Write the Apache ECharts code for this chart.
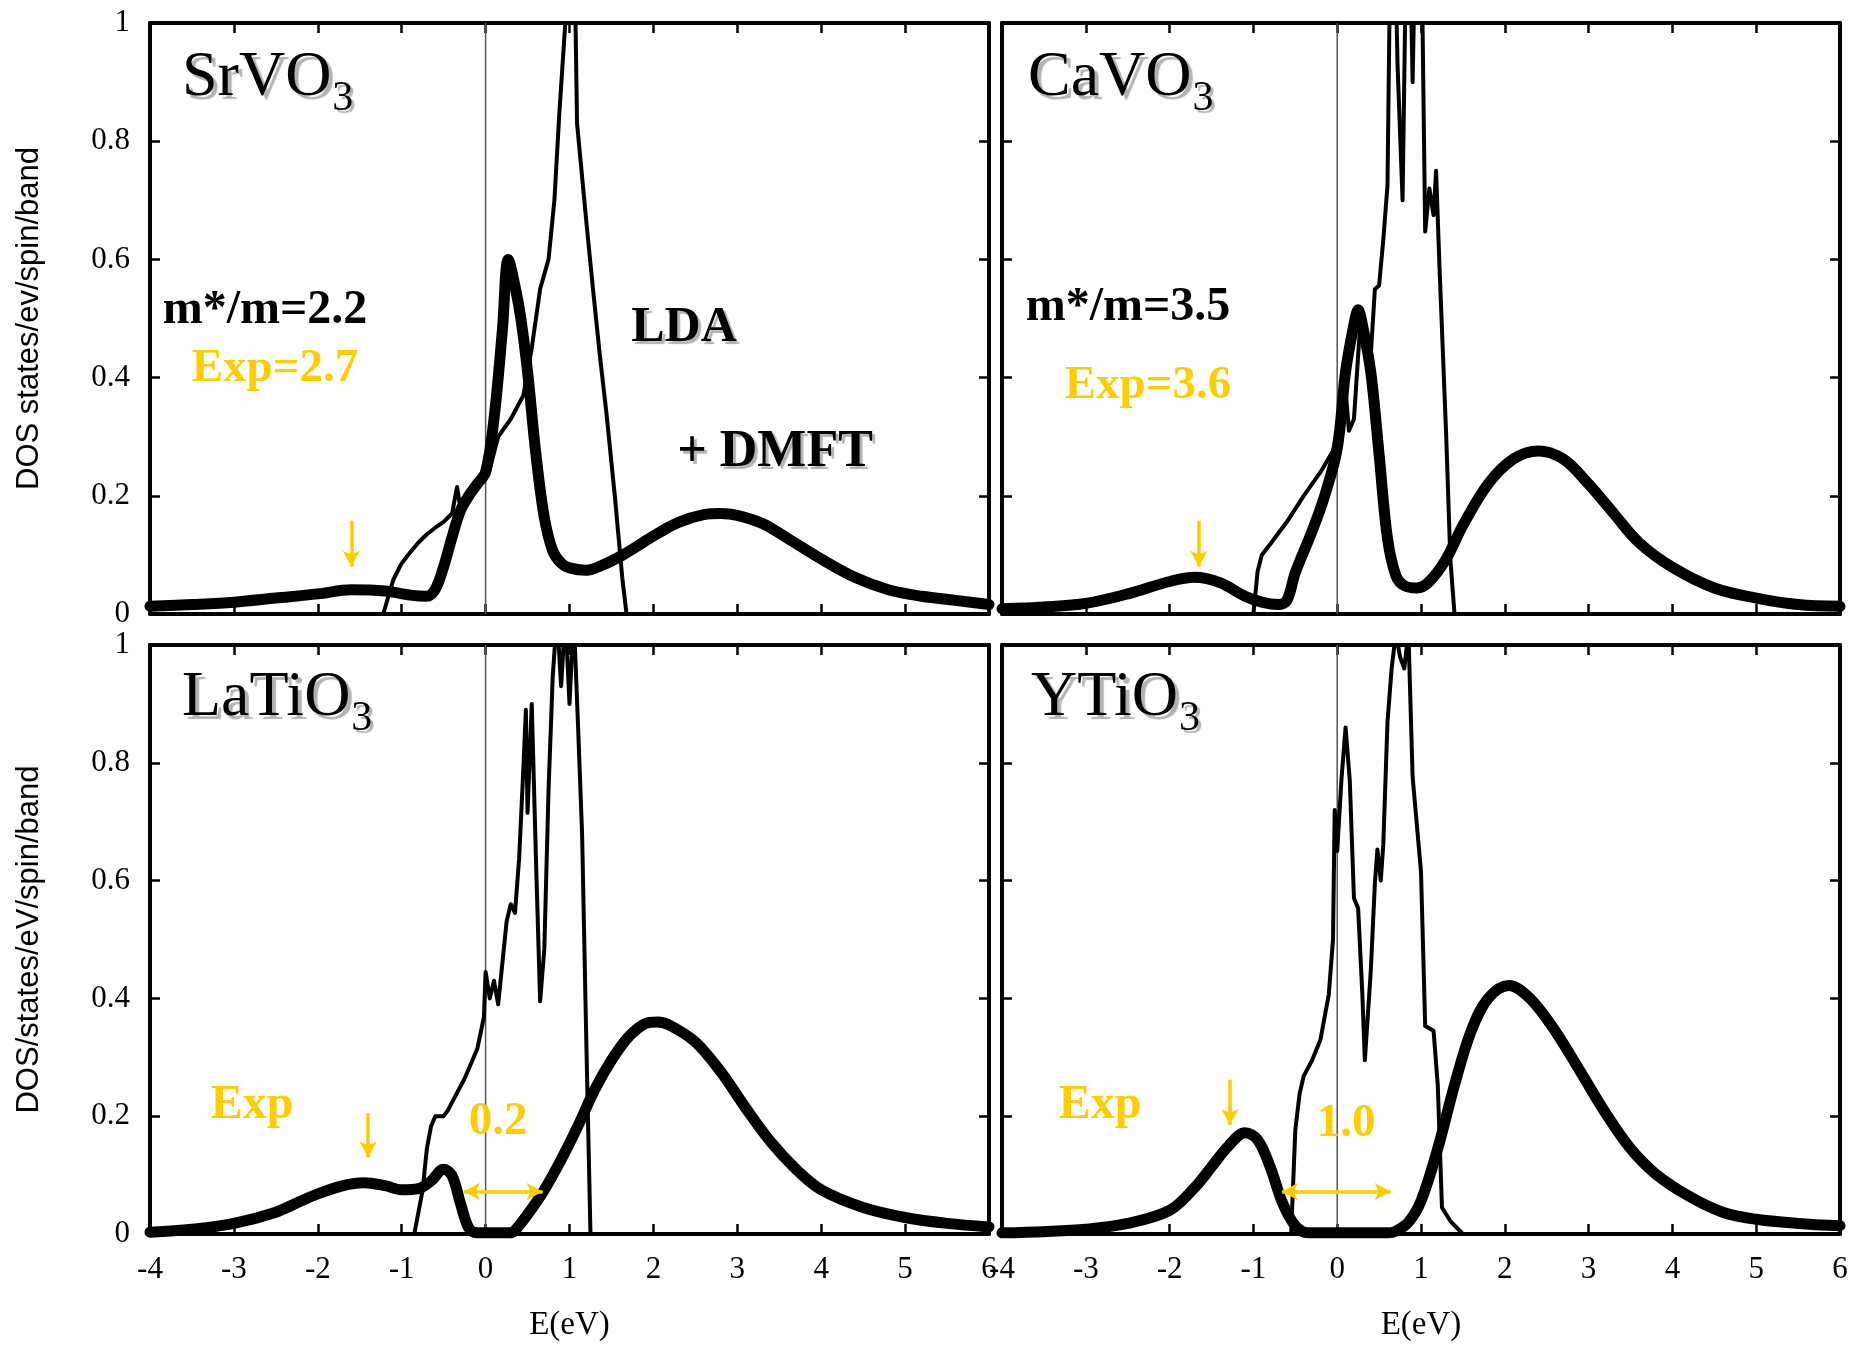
<!DOCTYPE html>
<html lang="en">
<head>
    <meta charset="UTF-8">
    <title>LDA+DMFT DOS</title>
    <script src="https://cdn.jsdelivr.net/npm/echarts@6/dist/echarts.min.js"></script>
    <style>
        body { margin: 0; background: #fff; }
        #chart { width: 1853px; height: 1346px; }
    </style>
</head>
<body>
<div id="chart"></div>
<script>
// [E (eV), DOS] pairs; thick = LDA+DMFT, thin = LDA
const srvo3Dmft = [[-4,0.013],[-3.5,0.016],[-3,0.02],[-2.5,0.027],[-2,0.034],[-1.6,0.041],[-1.2,0.039],[-0.9,0.032],[-0.7,0.03],[-0.6,0.042],[-0.5,0.08],[-0.4,0.13],[-0.3,0.175],[-0.2,0.2],[-0.1,0.22],[0,0.24],[0.1,0.33],[0.2,0.48],[0.27,0.6],[0.35,0.555],[0.42,0.5],[0.5,0.41],[0.6,0.27],[0.7,0.163],[0.8,0.107],[0.9,0.086],[1.0,0.078],[1.2,0.074],[1.4,0.083],[1.6,0.097],[1.8,0.114],[2.0,0.132],[2.3,0.155],[2.6,0.168],[2.8,0.17],[3.0,0.167],[3.3,0.153],[3.6,0.128],[4.0,0.093],[4.4,0.062],[4.8,0.041],[5.2,0.03],[5.6,0.023],[6,0.016]];
const srvo3Lda = [[-1.85,0],[-1.22,0],[-1.1,0.058],[-1.0,0.086],[-0.9,0.104],[-0.8,0.121],[-0.7,0.135],[-0.6,0.146],[-0.5,0.156],[-0.4,0.17],[-0.34,0.215],[-0.31,0.188],[-0.2,0.2],[-0.05,0.226],[0,0.265],[0.04,0.24],[0.15,0.3],[0.3,0.33],[0.45,0.37],[0.55,0.45],[0.65,0.55],[0.75,0.6],[0.82,0.7],[0.88,0.85],[0.95,1.0],[1.0,1.3],[1.04,1.3],[1.09,0.83],[1.21,0.65],[1.28,0.55],[1.36,0.44],[1.44,0.34],[1.54,0.2],[1.63,0.06],[1.68,0],[2.15,0]];

const cavo3Dmft = [[-4,0.009],[-3.5,0.012],[-3,0.018],[-2.5,0.034],[-2,0.055],[-1.7,0.062],[-1.4,0.053],[-1.1,0.03],[-0.9,0.02],[-0.7,0.016],[-0.6,0.023],[-0.5,0.07],[-0.3,0.14],[-0.15,0.2],[0,0.28],[0.1,0.41],[0.2,0.49],[0.25,0.515],[0.3,0.49],[0.4,0.41],[0.5,0.27],[0.6,0.128],[0.7,0.065],[0.8,0.048],[0.95,0.044],[1.1,0.055],[1.3,0.093],[1.5,0.15],[1.8,0.22],[2.1,0.262],[2.4,0.276],[2.7,0.262],[3.0,0.22],[3.3,0.17],[3.6,0.121],[4.0,0.079],[4.5,0.044],[5.0,0.027],[5.5,0.016],[6,0.013]];
const cavo3Lda = [[-1.0,0],[-0.95,0.072],[-0.9,0.1],[-0.8,0.118],[-0.6,0.156],[-0.4,0.2],[-0.2,0.24],[-0.05,0.276],[0.05,0.34],[0.1,0.38],[0.14,0.31],[0.2,0.33],[0.27,0.48],[0.33,0.45],[0.4,0.437],[0.45,0.55],[0.5,0.556],[0.55,0.633],[0.6,0.725],[0.64,1.2],[0.68,1.2],[0.72,0.93],[0.78,0.7],[0.83,1.2],[0.86,1.2],[0.9,0.9],[0.94,1.2],[1.0,1.2],[1.05,0.647],[1.1,0.72],[1.15,0.675],[1.18,0.75],[1.22,0.59],[1.3,0.304],[1.35,0.093],[1.4,0],[1.45,0]];

const latio3Dmft = [[-4,0.003],[-3.5,0.008],[-3,0.018],[-2.5,0.037],[-2.2,0.056],[-2,0.068],[-1.7,0.082],[-1.45,0.087],[-1.2,0.082],[-1,0.075],[-0.8,0.077],[-0.65,0.09],[-0.5,0.11],[-0.4,0.099],[-0.3,0.052],[-0.2,0.01],[-0.1,0.002],[0.3,0.002],[0.35,0.006],[0.5,0.033],[0.7,0.075],[0.9,0.126],[1.1,0.183],[1.3,0.245],[1.5,0.295],[1.7,0.334],[1.9,0.357],[2.05,0.36],[2.2,0.354],[2.5,0.326],[2.8,0.276],[3.1,0.214],[3.4,0.156],[3.7,0.11],[4,0.075],[4.5,0.045],[5,0.028],[5.5,0.018],[6,0.012]];
const latio3Lda = [[-0.85,0],[-0.75,0.075],[-0.7,0.145],[-0.65,0.183],[-0.6,0.2],[-0.5,0.2],[-0.45,0.21],[-0.35,0.237],[-0.25,0.264],[-0.1,0.314],[-0.02,0.368],[0,0.445],[0.05,0.4],[0.1,0.43],[0.15,0.39],[0.2,0.46],[0.25,0.53],[0.3,0.56],[0.35,0.545],[0.4,0.638],[0.45,0.79],[0.48,0.89],[0.5,0.715],[0.55,0.9],[0.6,0.638],[0.65,0.395],[0.7,0.484],[0.75,0.753],[0.8,0.946],[0.85,1.05],[0.9,0.93],[0.95,1.05],[1.0,0.9],[1.05,1.05],[1.1,0.87],[1.15,0.68],[1.2,0.33],[1.25,0]];

const ytio3Dmft = [[-4,0.002],[-3.5,0.004],[-3,0.008],[-2.5,0.018],[-2,0.04],[-1.7,0.079],[-1.5,0.114],[-1.3,0.149],[-1.1,0.172],[-0.95,0.16],[-0.8,0.114],[-0.65,0.052],[-0.5,0.014],[-0.35,0.002],[0.6,0.002],[0.7,0.005],[0.85,0.02],[1.0,0.056],[1.2,0.145],[1.4,0.253],[1.6,0.345],[1.8,0.4],[2.05,0.422],[2.3,0.4],[2.6,0.345],[2.9,0.276],[3.2,0.206],[3.5,0.145],[3.8,0.102],[4.2,0.064],[4.6,0.037],[5,0.025],[5.5,0.018],[6,0.014]];
const ytio3Lda = [[-0.85,0],[-0.55,0],[-0.5,0.176],[-0.45,0.237],[-0.4,0.268],[-0.3,0.295],[-0.2,0.33],[-0.1,0.407],[-0.05,0.5],[-0.03,0.72],[0,0.65],[0.05,0.77],[0.1,0.86],[0.15,0.77],[0.2,0.57],[0.25,0.553],[0.3,0.407],[0.33,0.295],[0.4,0.445],[0.45,0.596],[0.48,0.653],[0.52,0.6],[0.55,0.661],[0.6,0.869],[0.65,0.961],[0.7,1.02],[0.75,0.98],[0.8,0.96],[0.85,1.02],[0.9,0.776],[1.0,0.615],[1.05,0.353],[1.15,0.345],[1.2,0.253],[1.25,0.045],[1.35,0.022],[1.5,0],[1.8,0]];

// Fermi level marker
const fermiLine = [[0,0],[0,1]];

// experimental marks: [start, end] in data units
const srvo3Arrow = [[-1.6,0.158],[-1.6,0.08]];
const cavo3Arrow = [[-1.65,0.158],[-1.65,0.08]];
const latio3Arrow = [[-1.4,0.205],[-1.4,0.13]];
const ytio3Arrow = [[-1.28,0.262],[-1.28,0.185]];
const latio3Gap = [[-0.26,0.072],[0.68,0.072]];
const ytio3Gap = [[-0.66,0.072],[0.64,0.072]];

const xTicks = { min: -4, max: 6, interval: 1 };
const yTicks = { min: 0, max: 1, interval: 0.2 };
const yNames = ['DOS states/ev/spin/band', '', 'DOS/states/eV/spin/band', ''];

const SERIF = '"Liberation Serif", "Times New Roman", serif';
const SANS = '"Liberation Sans", Arial, sans-serif';
const GOLD = '#FFCC00';

const grids = [
    { left: 150, top: 23, width: 839, height: 591 },
    { left: 1002, top: 23, width: 838, height: 591 },
    { left: 150, top: 645, width: 839, height: 589 },
    { left: 1002, top: 645, width: 838, height: 589 }
];

const panels = [
    { dmft: srvo3Dmft, lda: srvo3Lda, down: [srvo3Arrow], both: [] },
    { dmft: cavo3Dmft, lda: cavo3Lda, down: [cavo3Arrow], both: [] },
    { dmft: latio3Dmft, lda: latio3Lda, down: [latio3Arrow], both: [latio3Gap] },
    { dmft: ytio3Dmft, lda: ytio3Lda, down: [ytio3Arrow], both: [ytio3Gap] }
];

const frame = { show: true, onZero: false, lineStyle: { color: '#000', width: 4 } };
const ticks = { show: true, inside: true, length: 10, lineStyle: { color: '#000', width: 2.5 } };
const tickLabel = { color: '#000', fontFamily: SERIF, fontSize: 31, showMinLabel: true, showMaxLabel: true };

const xAxes = [], yAxes = [], series = [];

grids.forEach((g, i) => {
    g.outerBoundsMode = 'none';
    const bottomRow = i >= 2, leftCol = i % 2 === 0;
    xAxes.push({
        gridIndex: i, type: 'value', position: 'bottom', ...xTicks,
        axisLine: frame, axisTick: ticks, splitLine: { show: false },
        axisLabel: { ...tickLabel, show: bottomRow, margin: 20 },
        name: bottomRow ? 'E(eV)' : '', nameLocation: 'middle', nameGap: 75, nameMoveOverlap: false,
        nameTextStyle: { color: '#000', fontFamily: SERIF, fontSize: 33 }
    });
    xAxes.push({
        gridIndex: i, type: 'value', position: 'top', ...xTicks,
        axisLine: frame, axisTick: ticks, splitLine: { show: false }, axisLabel: { show: false }
    });
    yAxes.push({
        gridIndex: i, type: 'value', position: 'left', ...yTicks,
        axisLine: frame, axisTick: ticks, splitLine: { show: false },
        axisLabel: { ...tickLabel, show: leftCol, margin: 20 },
        name: yNames[i], nameLocation: 'middle', nameRotate: 90, nameGap: 105, nameMoveOverlap: false,
        nameTextStyle: { color: '#000', fontFamily: SANS, fontSize: 31 }
    });
    yAxes.push({
        gridIndex: i, type: 'value', position: 'right', ...yTicks,
        axisLine: frame, axisTick: ticks, splitLine: { show: false }, axisLabel: { show: false }
    });

    const p = panels[i];
    const marks = [];
    p.down.forEach(a => marks.push([
        { coord: a[0], symbol: 'none' },
        { coord: a[1], symbol: 'arrow', symbolSize: [13, 16] }
    ]));
    p.both.forEach(a => marks.push([
        { coord: a[0], symbol: 'arrow', symbolSize: [13, 16] },
        { coord: a[1], symbol: 'arrow', symbolSize: [13, 16] }
    ]));

    series.push({
        type: 'line', xAxisIndex: 2 * i, yAxisIndex: 2 * i, data: fermiLine,
        symbol: 'none', silent: true, z: 1,
        lineStyle: { color: '#555', width: 1.5 }
    });
    series.push({
        type: 'line', xAxisIndex: 2 * i, yAxisIndex: 2 * i, data: p.lda,
        symbol: 'none', z: 2,
        lineStyle: { color: '#000', width: 4, join: 'round' }
    });
    series.push({
        type: 'line', xAxisIndex: 2 * i, yAxisIndex: 2 * i, data: p.dmft,
        symbol: 'none', smooth: 0.35, z: 3,
        lineStyle: { color: '#000', width: 11, join: 'round', cap: 'round' },
        markLine: {
            silent: true, animation: false,
            label: { show: false },
            lineStyle: { color: GOLD, width: 3.5, type: 'solid' },
            data: marks
        }
    });
});

// text helpers
const ctx = document.createElement('canvas').getContext('2d');
function textWidth(str, font) {
    ctx.font = font;
    return ctx.measureText(str).width;
}

function shadowOf(d, alpha) {
    const c = `rgba(0,0,0,${alpha})`;
    return {
        textShadowColor: c, textShadowOffsetX: d, textShadowOffsetY: d, textShadowBlur: 1,
        shadowColor: c, shadowOffsetX: d, shadowOffsetY: d, shadowBlur: 1
    };
}

function formula(x, baseY, main, sub) {
    const mainFont = `64px ${SERIF}`;
    const w = textWidth(main, mainFont);
    return [
        { type: 'text', x: x, y: baseY - 21, z: 10,
          style: { text: main, font: mainFont, fill: '#000', textVerticalAlign: 'middle', verticalAlign: 'middle', ...shadowOf(4, 0.3) } },
        { type: 'text', x: x + w + 1, y: baseY, z: 10,
          style: { text: sub, font: `42px ${SERIF}`, fill: '#000', textVerticalAlign: 'middle', verticalAlign: 'middle', ...shadowOf(3, 0.3) } }
    ];
}

function label(cx, cy, text, size, color, withShadow) {
    return {
        type: 'text', x: cx, y: cy, z: 10,
        style: Object.assign({
            text: text, font: `bold ${size}px ${SERIF}`, fill: color,
            textAlign: 'center', align: 'center', textVerticalAlign: 'middle', verticalAlign: 'middle'
        }, withShadow ? shadowOf(3, 0.3) : {})
    };
}

const graphic = [
    ...formula(182, 99, 'SrVO', '3'),
    ...formula(1028, 99, 'CaVO', '3'),
    ...formula(182, 719, 'LaTiO', '3'),
    ...formula(1031, 719, 'YTiO', '3'),
    label(265, 311, 'm*/m=2.2', 48, '#000', false),
    label(275, 369, 'Exp=2.7', 47, GOLD, false),
    label(684, 328, 'LDA', 50, '#000', true),
    label(775, 453, '+ DMFT', 52, '#000', true),
    label(1128, 308, 'm*/m=3.5', 48, '#000', false),
    label(1148, 386, 'Exp=3.6', 47, GOLD, false),
    label(252, 1106, 'Exp', 48, GOLD, false),
    label(498, 1122, '0.2', 47, GOLD, false),
    label(1100, 1106, 'Exp', 48, GOLD, false),
    label(1346, 1124, '1.0', 47, GOLD, false)
];

const chart = echarts.init(document.getElementById('chart'));
chart.setOption({
    animation: false,
    backgroundColor: '#fff',
    grid: grids,
    xAxis: xAxes,
    yAxis: yAxes,
    series: series,
    graphic: graphic
});
</script>
</body>
</html>
